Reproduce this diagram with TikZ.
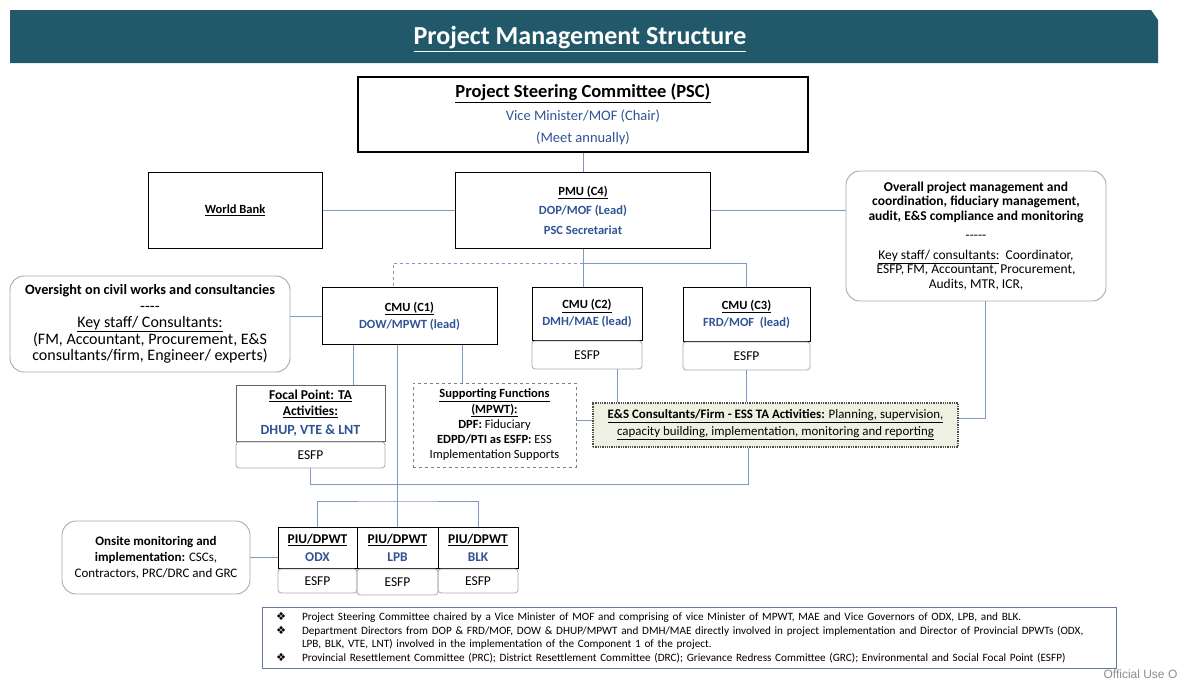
\documentclass[tikz,border=0pt]{standalone}
\usepackage{fontspec}
\setmainfont{Carlito}
\newfontfamily\symfont{DejaVu Sans}
\newfontfamily\stampfont{Liberation Sans}
\usetikzlibrary{positioning}

\definecolor{bannerteal}{HTML}{21596A}
\definecolor{leadblue}{HTML}{2F5496}
\definecolor{linkblue}{HTML}{7F98C6}
\definecolor{edgegrey}{HTML}{A9A9A9}
\definecolor{esfill}{HTML}{EEF0E1}

\newcommand{\leadtxt}[1]{\textcolor{leadblue}{#1}}
\newcommand{\fsz}[2]{\fontsize{#1}{#2}\selectfont}

\begin{document}
\begin{tikzpicture}[x=1pt, y=-1pt,
	mainbox/.style={draw=black, line width=1pt, fill=white, align=center, inner sep=1pt},
	softbox/.style={draw=edgegrey, line width=0.9pt, rounded corners=14pt, fill=white, align=center, inner sep=1pt},
	esfpbox/.style={draw=edgegrey, line width=0.8pt, rounded corners=3pt, align=center, font=\fsz{13.5}{15}},
	link/.style={draw=linkblue, line width=1pt}]
	\useasboundingbox (0,0) rectangle (1180,680);

	% Banner
	\fill[bannerteal] (10,10) -- (1151,10) -- (1158,20) -- (1158,63) -- (10,63) -- cycle;
	\node[text=white, font=\fsz{26}{30}\bfseries] (title) at (580,39) {\underline{Project Management Structure}};

	% Steering committee, bank, PMU
	\node[mainbox, line width=1.8pt, minimum width=450pt, minimum height=75pt, font=\fsz{14.5}{22.5}] (psc) at (583,114.5)
		{{\fsz{18.5}{22.5}\bfseries\underline{Project Steering Committee (PSC)}}\\ \leadtxt{Vice Minister/MOF (Chair)}\\ \leadtxt{(Meet annually)}};
	\node[mainbox, minimum width=174pt, minimum height=76pt, font=\fsz{12.5}{15}\bfseries] (wb) at (235,210) {\underline{World Bank}};
	\node[mainbox, minimum width=255pt, minimum height=76pt, font=\fsz{12.5}{19.5}\bfseries] (pmu) at (583,210)
		{\underline{PMU (C4)}\\ \leadtxt{DOP/MOF (Lead)}\\ \leadtxt{PSC Secretariat}};
	\node[softbox, minimum width=260pt, minimum height=130pt, font=\fsz{13.5}{14.5}] (overall) at (976,236)
		{\textbf{Overall project management and}\\ \textbf{coordination, fiduciary management,}\\ \textbf{audit, E\&S compliance and monitoring}\\[5pt]
		-{}-{}-{}-{}-\\[5pt] \underline{Key staff/ consultants:}\ \ Coordinator,\\ ESFP, FM, Accountant, Procurement,\\ Audits, MTR, ICR,};

	% Component units
	\node[softbox, minimum width=280pt, minimum height=96pt, font=\fsz{16}{16.5}] (oversight) at (150,324)
		{{\fsz{14.3}{16.5}\bfseries Oversight on civil works and consultancies}\\ -{}-{}-{}-\\ \underline{Key staff/ Consultants:}\\ (FM, Accountant, Procurement, E\&S\\ consultants/firm, Engineer/ experts)};
	\node[mainbox, minimum width=175pt, minimum height=57pt, font=\fsz{12.5}{17}\bfseries] (cmu1) at (409.5,316)
		{\underline{CMU (C1)}\\ \leadtxt{DOW/MPWT (lead)}};
	\node[mainbox, minimum width=110pt, minimum height=53pt, font=\fsz{12.5}{17}\bfseries] (cmu2) at (587,313.5)
		{\underline{CMU (C2)}\\ \leadtxt{DMH/MAE (lead)}};
	\node[esfpbox, minimum width=110pt, minimum height=28pt, below=0pt of cmu2] (esfp2) {ESFP};
	\node[mainbox, minimum width=127pt, minimum height=54pt, font=\fsz{12.5}{17}\bfseries] (cmu3) at (746.5,314)
		{\underline{CMU (C3)}\\ \leadtxt{FRD/MOF\ \ (lead)}};
	\node[esfpbox, minimum width=127pt, minimum height=28pt, below=0pt of cmu3] (esfp3) {ESFP};

	% Focal point, supporting functions, E&S
	\node[mainbox, draw=black!60, minimum width=149pt, minimum height=56pt, font=\fsz{13.5}{16}\bfseries] (focal) at (310.5,413)
		{\underline{Focal Point: TA}\\ \underline{Activities:}\\[3pt] {\fsz{14}{16}\leadtxt{DHUP, VTE \& LNT}}};
	\node[esfpbox, minimum width=149pt, minimum height=26pt, below=0pt of focal] (esfpf) {ESFP};
	\node[draw=black!50, dashed, line width=0.8pt, minimum width=163pt, minimum height=84pt, align=center, font=\fsz{12.5}{15.3}] (support) at (494.5,425)
		{\textbf{\underline{Supporting Functions}}\\ \textbf{\underline{(MPWT):}}\\ \textbf{DPF:} Fiduciary\\ \textbf{EDPD/PTI as ESFP:} ESS\\ Implementation Supports};
	\node[draw=black!70, densely dotted, line width=1.3pt, fill=esfill, minimum width=365pt, minimum height=44pt, align=center, font=\fsz{12.9}{17}] (es) at (775.5,425)
		{\underline{\textbf{E\&S Consultants/Firm - ESS TA Activities:} Planning, supervision,}\\ \underline{capacity building, implementation, monitoring and reporting}};

	% Provincial units
	\node[mainbox, minimum width=79pt, minimum height=41pt, font=\fsz{13.4}{18}\bfseries] (piuodx) at (317.5,547.5) {\underline{PIU/DPWT}\\ \leadtxt{ODX}};
	\node[esfpbox, minimum width=79pt, minimum height=24pt, below=0pt of piuodx] (esfpodx) {ESFP};
	\node[mainbox, minimum width=81pt, minimum height=41pt, font=\fsz{13.4}{18}\bfseries] (piulpb) at (397.5,547.5) {\underline{PIU/DPWT}\\ \leadtxt{LPB}};
	\node[esfpbox, minimum width=81pt, minimum height=26pt, below=0pt of piulpb] (esfplpb) {ESFP};
	\node[mainbox, minimum width=80pt, minimum height=41pt, font=\fsz{13.4}{18}\bfseries] (piublk) at (478,547.5) {\underline{PIU/DPWT}\\ \leadtxt{BLK}};
	\node[esfpbox, minimum width=80pt, minimum height=24pt, below=0pt of piublk] (esfpblk) {ESFP};
	\node[softbox, minimum width=188pt, minimum height=73pt, font=\fsz{13}{16}] (onsite) at (156,557.5)
		{\textbf{Onsite monitoring and}\\ \textbf{implementation:} CSCs,\\ Contractors, PRC/DRC and GRC};

	% Notes
	\node[draw=linkblue!80!black, line width=0.8pt, inner xsep=14pt, text width=826pt, minimum height=61pt, align=left, font=\fsz{11.2}{13.5}] (notes) at (689,637.5)
		{\makebox[26pt][l]{\symfont ❖}Project Steering Committee chaired by a Vice Minister of MOF and comprising of vice Minister of MPWT, MAE and Vice Governors of ODX, LPB, and BLK.\\
		\makebox[26pt][l]{\symfont ❖}Department Directors from DOP \& FRD/MOF, DOW \& DHUP/MPWT and DMH/MAE directly involved in project implementation and Director of Provincial DPWTs (ODX,\\
		\hspace*{26pt}LPB, BLK, VTE, LNT) involved in the implementation of the Component 1 of the project.\\
		\makebox[26pt][l]{\symfont ❖}Provincial Resettlement Committee (PRC); District Resettlement Committee (DRC); Grievance Redress Committee (GRC); Environmental and Social Focal Point (ESFP)};
	\node[anchor=west, text=black!45, font=\stampfont\fsz{12}{14}] (stamp) at (1100,674) {Official Use O};

	% Connectors
	\draw[link] (psc) -- (pmu);
	\draw[link] (wb) -- (pmu);
	\draw[link] (pmu.east) -- (pmu.east -| overall.west);
	\coordinate (hub) at (583,263);
	\draw[link] (pmu.south) -- (pmu.south |- cmu2.north);
	\draw[link] (hub) -| (cmu3.north);
	\draw[link, dashed] (hub) -| ([xshift=-16.5pt]cmu1.north);
	\draw[link] (oversight.east |- cmu1.west) -- (cmu1.west);
	\draw[link] ([xshift=-56.5pt]cmu1.south) -- ([xshift=-56.5pt]cmu1.south |- focal.north);
	\draw[link] (cmu1.south -| piulpb.north) -- (piulpb.north);
	\draw[link] ([xshift=52.5pt]cmu1.south) -- ([xshift=52.5pt]cmu1.south |- support.north);
	\draw[link] ([xshift=30pt]esfp2.south) -- ([xshift=30pt]esfp2.south |- es.north);
	\draw[link] (esfp3.south) -- (esfp3.south |- es.north);
	\draw[link] ([yshift=5pt]support.east) -- ([yshift=5pt]support.east -| es.west);
	\draw[link] ([xshift=9pt]overall.south) |- ([yshift=7pt]es.east);
	\draw[link] ([xshift=-27.5pt]es.south) -- ++(0,37) -| (esfpf.south);
	\coordinate (bracket) at (398,501);
	\draw[link] (piuodx.north) |- (bracket) -| (piublk.north);
	\draw[link] (onsite.east) -- (onsite.east -| piuodx.west);

\end{tikzpicture}
\end{document}
